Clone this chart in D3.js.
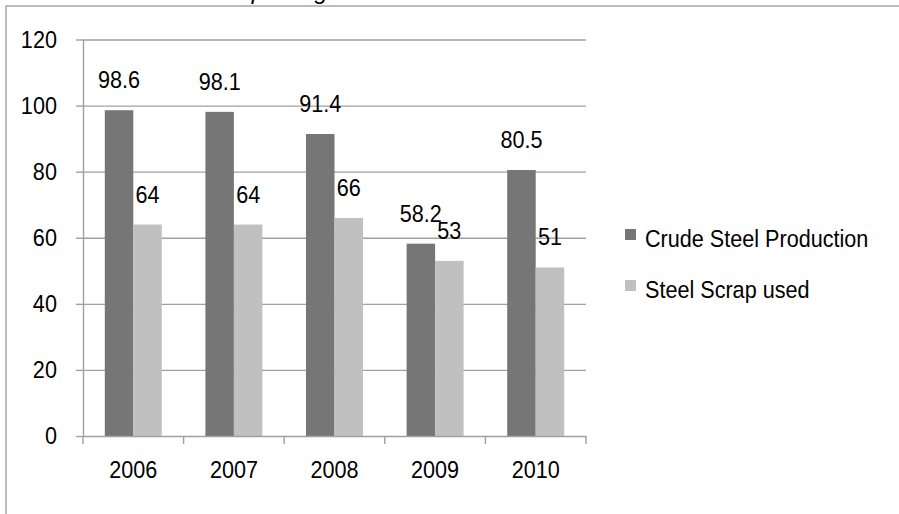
<!DOCTYPE html>
<html>
<head>
<meta charset="utf-8">
<script src="https://cdn.jsdelivr.net/npm/d3@7"></script>
<style>
  body { margin: 0; background: #fff; }
  text { font-family: "Liberation Sans", Arial, sans-serif; fill: #000; }
</style>
</head>
<body>
<div id="chart"></div>
<script>
// data
const years = ['2006', '2007', '2008', '2009', '2010']
const crudeSteel = [98.6, 98.1, 91.4, 58.2, 80.5]
const steelScrap = [64, 64, 66, 53, 51]
const seriesNames = ['Crude Steel Production', 'Steel Scrap used']
const seriesColors = ['#767676', '#c0c0c0']
const yTicks = [0, 20, 40, 60, 80, 100, 120]

const dms = { width: 899, height: 514, left: 83, right: 586, top: 39.5, bottom: 436 }
const fontSize = 24
const squeeze = 0.9   // text in the source is slightly condensed
const gridColor = '#a0a0a0'

const svg = d3.select('#chart')
  .append('svg')
  .attr('width', dms.width)
  .attr('height', dms.height)

// outer frame, runs off the right / bottom edge
svg.append('rect')
  .attr('x', 6).attr('y', 6)
  .attr('width', dms.width + 20).attr('height', dms.height + 20)
  .attr('fill', 'none')
  .attr('stroke', '#a6a6a6')
  .attr('stroke-width', 1.5)

// title, cut off at the top so only the descenders show (as in the source)
svg.append('text')
  .attr('x', 121).attr('y', -1)
  .attr('text-anchor', 'middle')
  .style('font-style', 'italic')
  .style('font-size', fontSize + 'px')
  .text('Crude Steel Production and Scrap Usage')

const x = d3.scaleBand()
  .domain(years)
  .range([dms.left, dms.right])
  .padding(0)

const xInner = d3.scaleBand()
  .domain(seriesNames)
  .range([0, x.bandwidth()])
  .paddingInner(0)
  .paddingOuter(0.765)

const y = d3.scaleLinear()
  .domain([0, 120])
  .range([dms.bottom, dms.top])

// gridlines
const grid = svg.append('g')
  .attr('transform', `translate(${dms.left},0)`)
  .call(d3.axisLeft(y).tickValues(yTicks.slice(1)).tickSize(-(dms.right - dms.left)).tickFormat(''))
grid.select('.domain').remove()
grid.selectAll('line').attr('stroke', gridColor).attr('stroke-width', 1.4)

// y axis
const yAxis = svg.append('g')
  .attr('transform', `translate(${dms.left},0)`)
  .call(d3.axisLeft(y).tickValues(yTicks).tickSize(7).tickSizeOuter(0).tickPadding(22))
yAxis.select('.domain').attr('stroke', gridColor).attr('stroke-width', 1.4)
yAxis.selectAll('line').attr('stroke', gridColor).attr('stroke-width', 1.4)
yAxis.selectAll('text')
  .style('font-size', fontSize + 'px')
  .attr('transform', `scale(${squeeze},1)`)

// bars
const series = [crudeSteel, steelScrap]
series.forEach((values, si) => {
  const g = svg.append('g')
  g.selectAll('rect')
    .data(values)
    .join('rect')
    .attr('x', (d, i) => x(years[i]) + xInner(seriesNames[si]))
    .attr('y', d => y(d))
    .attr('width', xInner.bandwidth())
    .attr('height', d => y(0) - y(d))
    .attr('fill', seriesColors[si])

  g.selectAll('text')
    .data(values)
    .join('text')
    .attr('text-anchor', 'middle')
    .style('font-size', fontSize + 'px')
    .attr('transform', (d, i) => {
      const cx = x(years[i]) + xInner(seriesNames[si]) + xInner.bandwidth() / 2
      return `translate(${cx},${y(d) - 22}) scale(${squeeze},1)`
    })
    .text(d => d)
})

// x axis: line, ticks between categories, labels in the middle
const xAxis = svg.append('g')
  .attr('transform', `translate(0,${dms.bottom})`)
  .call(d3.axisBottom(x).tickSize(0).tickPadding(25))
xAxis.select('.domain').attr('stroke', gridColor).attr('stroke-width', 1.4)
xAxis.selectAll('text')
  .style('font-size', fontSize + 'px')
  .attr('transform', `scale(${squeeze},1)`)

const boundaries = years.map(d => x(d)).concat([x(years[years.length - 1]) + x.bandwidth()])
xAxis.selectAll('line.sep')
  .data(boundaries)
  .join('line')
  .attr('class', 'sep')
  .attr('x1', d => d).attr('x2', d => d)
  .attr('y1', 0).attr('y2', 8)
  .attr('stroke', gridColor)
  .attr('stroke-width', 1.4)

// legend
const legend = svg.append('g')
  .attr('transform', 'translate(625,229)')

const item = legend.selectAll('g')
  .data(seriesNames)
  .join('g')
  .attr('transform', (d, i) => `translate(0,${i * 51})`)

item.append('rect')
  .attr('width', 11).attr('height', 11)
  .attr('fill', (d, i) => seriesColors[i])

item.append('text')
  .style('font-size', fontSize + 'px')
  .attr('transform', `translate(20,18) scale(${squeeze},1)`)
  .text(d => d)
</script>
</body>
</html>
